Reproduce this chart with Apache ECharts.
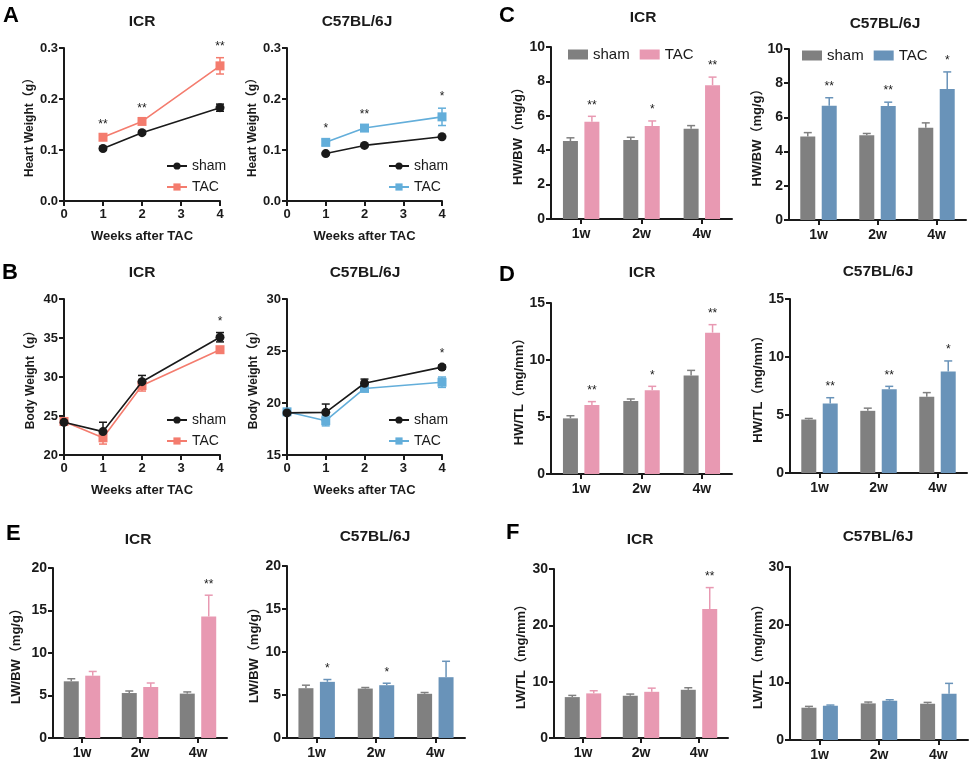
<!DOCTYPE html>
<html>
<head>
<meta charset="utf-8">
<script src="https://cdn.jsdelivr.net/npm/echarts@6/dist/echarts.min.js"></script>
<style>
html,body{margin:0;padding:0;background:#fff;}
#chart{width:969px;height:763px;}
</style>
</head>
<body>
<div id="chart"></div>
<script>
// ---------- DATA ----------
const weeksA = [1, 2, 4];
const hwIcrSham = [0.103, 0.134, 0.183];
const hwIcrShamErr = [0.003, 0.003, 0.007];
const hwIcrTac = [0.125, 0.156, 0.265];
const hwIcrTacErr = [0.004, 0.004, 0.016];
const hwIcrStars = ['**', '**', '**'];
const hwC57Sham = [0.093, 0.109, 0.126];
const hwC57ShamErr = [0.002, 0.002, 0.002];
const hwC57Tac = [0.115, 0.143, 0.165];
const hwC57TacErr = [0.006, 0.004, 0.017];
const hwC57Stars = ['*', '**', '*'];

const weeksB = [0, 1, 2, 4];
const bwIcrSham = [24.2, 23.0, 29.4, 35.1];
const bwIcrShamErr = [0.3, 1.2, 0.8, 0.6];
const bwIcrTac = [24.3, 22.2, 28.9, 33.5];
const bwIcrTacErr = [0.3, 0.8, 0.7, 0.3];
const bwIcrStars = ['', '', '', '*'];
const bwC57Sham = [19.05, 19.1, 21.9, 23.45];
const bwC57ShamErr = [0.2, 0.8, 0.4, 0.2];
const bwC57Tac = [19.15, 18.3, 21.4, 22.0];
const bwC57TacErr = [0.2, 0.5, 0.2, 0.5];
const bwC57Stars = ['', '', '', '*'];

const categories = ['1w', '2w', '4w'];
const hwbwIcrSham = [4.53, 4.60, 5.24];
const hwbwIcrShamErr = [0.19, 0.15, 0.19];
const hwbwIcrTac = [5.66, 5.41, 7.78];
const hwbwIcrTacErr = [0.31, 0.29, 0.47];
const hwbwIcrStars = ['**', '*', '**'];
const hwbwC57Sham = [4.88, 4.96, 5.39];
const hwbwC57ShamErr = [0.23, 0.10, 0.29];
const hwbwC57Tac = [6.68, 6.66, 7.66];
const hwbwC57TacErr = [0.47, 0.23, 1.0];
const hwbwC57Stars = ['**', '**', '*'];

const hwtlIcrSham = [4.88, 6.40, 8.65];
const hwtlIcrShamErr = [0.23, 0.18, 0.44];
const hwtlIcrTac = [6.05, 7.34, 12.4];
const hwtlIcrTacErr = [0.30, 0.35, 0.70];
const hwtlIcrStars = ['**', '*', '**'];
const hwtlC57Sham = [4.61, 5.36, 6.58];
const hwtlC57ShamErr = [0.09, 0.23, 0.35];
const hwtlC57Tac = [6.00, 7.21, 8.74];
const hwtlC57TacErr = [0.49, 0.26, 0.92];
const hwtlC57Stars = ['**', '**', '*'];

const lwbwIcrSham = [6.67, 5.29, 5.22];
const lwbwIcrShamErr = [0.30, 0.24, 0.20];
const lwbwIcrTac = [7.33, 6.00, 14.3];
const lwbwIcrTacErr = [0.50, 0.47, 2.5];
const lwbwIcrStars = ['', '', '**'];
const lwbwC57Sham = [5.79, 5.75, 5.14];
const lwbwC57ShamErr = [0.35, 0.12, 0.15];
const lwbwC57Tac = [6.53, 6.14, 7.07];
const lwbwC57TacErr = [0.27, 0.23, 1.85];
const lwbwC57Stars = ['*', '*', ''];

const lwtlIcrSham = [7.26, 7.50, 8.56];
const lwtlIcrShamErr = [0.30, 0.30, 0.36];
const lwtlIcrTac = [7.92, 8.20, 22.9];
const lwtlIcrTacErr = [0.47, 0.65, 3.8];
const lwtlIcrStars = ['', '', '**'];
const lwtlC57Sham = [5.60, 6.35, 6.29];
const lwtlC57ShamErr = [0.23, 0.23, 0.23];
const lwtlC57Tac = [5.94, 6.81, 8.02];
const lwtlC57TacErr = [0.12, 0.17, 1.8];
const lwtlC57Stars = ['', '', ''];

// ---------- STYLE ----------
const FONT = "'Liberation Sans', Arial, 'Noto Sans CJK SC', sans-serif";
const BLACK = '#1a1a1a';
const ICR_LINE = '#F47C6E';
const C57_LINE = '#63AEDA';
const GRAY_BAR = '#808080';
const PINK_BAR = '#E899B2';
const BLUE_BAR = '#6993B9';
const BAR_W = 15;
const BAR_GAP = 0.43;
const BAR_OFF = (BAR_W + BAR_W * BAR_GAP) / 2;

const linePanels = [
  { key: 'A1', grid: { left: 64, top: 48, width: 156, height: 153 }, x: weeksA,
    sham: hwIcrSham, shamErr: hwIcrShamErr, tac: hwIcrTac, tacErr: hwIcrTacErr, stars: hwIcrStars,
    color: ICR_LINE, min: 0, max: 0.3, interval: 0.1, dec: 1, yname: 'Heart Weight（g）', ygap: 28, legend: { left: 166, top: 159 } },
  { key: 'A2', grid: { left: 287, top: 48, width: 155, height: 153 }, x: weeksA,
    sham: hwC57Sham, shamErr: hwC57ShamErr, tac: hwC57Tac, tacErr: hwC57TacErr, stars: hwC57Stars,
    color: C57_LINE, min: 0, max: 0.3, interval: 0.1, dec: 1, yname: 'Heart Weight（g）', ygap: 28, legend: { left: 388, top: 159 } },
  { key: 'B1', grid: { left: 64, top: 299, width: 156, height: 156 }, x: weeksB,
    sham: bwIcrSham, shamErr: bwIcrShamErr, tac: bwIcrTac, tacErr: bwIcrTacErr, stars: bwIcrStars,
    color: ICR_LINE, min: 20, max: 40, interval: 5, dec: 0, yname: 'Body Weight（g）', ygap: 27, legend: { left: 166, top: 413 } },
  { key: 'B2', grid: { left: 287, top: 299, width: 155, height: 156 }, x: weeksB,
    sham: bwC57Sham, shamErr: bwC57ShamErr, tac: bwC57Tac, tacErr: bwC57TacErr, stars: bwC57Stars,
    color: C57_LINE, min: 15, max: 30, interval: 5, dec: 0, yname: 'Body Weight（g）', ygap: 27, legend: { left: 388, top: 413 } }
];

const barPanels = [
  { key: 'C1', grid: { left: 551, top: 47, width: 181, height: 172 },
    sham: hwbwIcrSham, shamErr: hwbwIcrShamErr, tac: hwbwIcrTac, tacErr: hwbwIcrTacErr, stars: hwbwIcrStars,
    color: PINK_BAR, max: 10, interval: 2, yname: 'HW/BW（mg/g）', ygap: 26, legend: { left: 568, top: 47 } },
  { key: 'C2', grid: { left: 789, top: 49, width: 177, height: 171 },
    sham: hwbwC57Sham, shamErr: hwbwC57ShamErr, tac: hwbwC57Tac, tacErr: hwbwC57TacErr, stars: hwbwC57Stars,
    color: BLUE_BAR, max: 10, interval: 2, yname: 'HW/BW（mg/g）', ygap: 22, legend: { left: 802, top: 48 } },
  { key: 'D1', grid: { left: 551, top: 303, width: 181, height: 171 },
    sham: hwtlIcrSham, shamErr: hwtlIcrShamErr, tac: hwtlIcrTac, tacErr: hwtlIcrTacErr, stars: hwtlIcrStars,
    color: PINK_BAR, max: 15, interval: 5, yname: 'HW/TL（mg/mm）', ygap: 24 },
  { key: 'D2', grid: { left: 790, top: 299, width: 177, height: 174 },
    sham: hwtlC57Sham, shamErr: hwtlC57ShamErr, tac: hwtlC57Tac, tacErr: hwtlC57TacErr, stars: hwtlC57Stars,
    color: BLUE_BAR, max: 15, interval: 5, yname: 'HW/TL（mg/mm）', ygap: 25 },
  { key: 'E1', grid: { left: 53, top: 568, width: 174, height: 170 },
    sham: lwbwIcrSham, shamErr: lwbwIcrShamErr, tac: lwbwIcrTac, tacErr: lwbwIcrTacErr, stars: lwbwIcrStars,
    color: PINK_BAR, max: 20, interval: 5, yname: 'LW/BW（mg/g）', ygap: 30 },
  { key: 'E2', grid: { left: 287, top: 566, width: 178, height: 172 },
    sham: lwbwC57Sham, shamErr: lwbwC57ShamErr, tac: lwbwC57Tac, tacErr: lwbwC57TacErr, stars: lwbwC57Stars,
    color: BLUE_BAR, max: 20, interval: 5, yname: 'LW/BW（mg/g）', ygap: 26 },
  { key: 'F1', grid: { left: 554, top: 569, width: 174, height: 169 },
    sham: lwtlIcrSham, shamErr: lwtlIcrShamErr, tac: lwtlIcrTac, tacErr: lwtlIcrTacErr, stars: lwtlIcrStars,
    color: PINK_BAR, max: 30, interval: 10, yname: 'LW/TL（mg/mm）', ygap: 26 },
  { key: 'F2', grid: { left: 790, top: 567, width: 178, height: 173 },
    sham: lwtlC57Sham, shamErr: lwtlC57ShamErr, tac: lwtlC57Tac, tacErr: lwtlC57TacErr, stars: lwtlC57Stars,
    color: BLUE_BAR, max: 30, interval: 10, yname: 'LW/TL（mg/mm）', ygap: 25 }
];

const titles = [
  ['ICR', 142, 22], ['C57BL/6J', 357, 22], ['ICR', 643, 18], ['C57BL/6J', 885, 24],
  ['ICR', 142, 273], ['C57BL/6J', 365, 273], ['ICR', 642, 273], ['C57BL/6J', 878, 272],
  ['ICR', 138, 540], ['C57BL/6J', 375, 537], ['ICR', 640, 540], ['C57BL/6J', 878, 537]
];
const letters = [['A', 3, 5], ['C', 499, 5], ['B', 2, 262], ['D', 499, 264], ['E', 6, 523], ['F', 506, 522]];

// ---------- BUILD ----------
const axisLine = { show: true, lineStyle: { color: BLACK, width: 2 } };
const axisTick = { show: true, length: 5, inside: false, lineStyle: { color: BLACK, width: 2 } };
const axisLabelBase = { color: BLACK, fontWeight: 'bold', fontSize: 13, fontFamily: FONT };
const nameStyle = { color: BLACK, fontWeight: 'bold', fontSize: 13, fontFamily: FONT };

const option = { animation: false, backgroundColor: '#fff', grid: [], xAxis: [], yAxis: [], series: [], legend: [], graphic: [] };

function errSeries(gi, data, color, offset, both, cap) {
  return {
    type: 'custom', xAxisIndex: gi, yAxisIndex: gi, z: 1, silent: true,
    data: data,
    renderItem: function (params, api) {
      const x = api.value(0), y = api.value(1), e = api.value(2);
      const pTop = api.coord([x, y + e]);
      const pBot = api.coord([x, both ? y - e : y]);
      const cx = pTop[0] + offset;
      const st = { stroke: color, lineWidth: 1.5 };
      const children = [
        { type: 'line', shape: { x1: cx, y1: pBot[1], x2: cx, y2: pTop[1] }, style: st },
        { type: 'line', shape: { x1: cx - cap / 2, y1: pTop[1], x2: cx + cap / 2, y2: pTop[1] }, style: st }
      ];
      if (both) children.push({ type: 'line', shape: { x1: cx - cap / 2, y1: pBot[1], x2: cx + cap / 2, y2: pBot[1] }, style: st });
      return { type: 'group', children: children };
    }
  };
}

function starSeries(gi, data, stars, offset, lift) {
  return {
    type: 'custom', xAxisIndex: gi, yAxisIndex: gi, z: 5, silent: true,
    data: data,
    renderItem: function (params, api) {
      const s = stars[params.dataIndex];
      if (!s) return null;
      const p = api.coord([api.value(0), api.value(1)]);
      return { type: 'text', style: { text: s, x: p[0] + offset, y: p[1] - lift, textAlign: 'center', textVerticalAlign: 'middle', fontSize: 12, fontFamily: FONT, fill: BLACK } };
    }
  };
}

let gi = 0;
linePanels.forEach(function (pn) {
  option.grid.push(Object.assign({ containLabel: false }, pn.grid));
  option.xAxis.push({
    type: 'value', gridIndex: gi, min: 0, max: 4, interval: 1,
    axisLine: axisLine, axisTick: axisTick, splitLine: { show: false },
    axisLabel: Object.assign({ margin: 7 }, axisLabelBase),
    name: 'Weeks after TAC', nameLocation: 'middle', nameGap: 29, nameTextStyle: nameStyle
  });
  const dec = pn.dec;
  option.yAxis.push({
    type: 'value', gridIndex: gi, min: pn.min, max: pn.max, interval: pn.interval,
    axisLine: axisLine, axisTick: axisTick, splitLine: { show: false },
    axisLabel: Object.assign({ margin: 6, formatter: function (v) { return v.toFixed(dec); } }, axisLabelBase),
    name: pn.yname, nameLocation: 'middle', nameGap: pn.ygap, nameTextStyle: Object.assign({}, nameStyle, { fontSize: 12 })
  });
  const shamName = 'sham|' + pn.key, tacName = 'TAC|' + pn.key;
  const shamErrData = pn.x.map(function (x, i) { return [x, pn.sham[i], pn.shamErr[i]]; });
  const tacErrData = pn.x.map(function (x, i) { return [x, pn.tac[i], pn.tacErr[i]]; });
  option.series.push(errSeries(gi, tacErrData, pn.color, 0, true, 8));
  option.series.push(errSeries(gi, shamErrData, BLACK, 0, true, 8));
  option.series.push({
    name: tacName, type: 'line', xAxisIndex: gi, yAxisIndex: gi, z: 3,
    data: pn.x.map(function (x, i) { return [x, pn.tac[i]]; }),
    symbol: 'rect', symbolSize: 9, lineStyle: { color: pn.color, width: 1.6 }, itemStyle: { color: pn.color }
  });
  option.series.push({
    name: shamName, type: 'line', xAxisIndex: gi, yAxisIndex: gi, z: 4,
    data: pn.x.map(function (x, i) { return [x, pn.sham[i]]; }),
    symbol: 'circle', symbolSize: 9, lineStyle: { color: BLACK, width: 1.6 }, itemStyle: { color: BLACK }
  });
  const starData = pn.x.map(function (x, i) { return [x, Math.max(pn.sham[i] + pn.shamErr[i], pn.tac[i] + pn.tacErr[i])]; });
  option.series.push(starSeries(gi, starData, pn.stars, 0, 11));
  option.legend.push({
    left: pn.legend.left, top: pn.legend.top, orient: 'vertical', padding: 0, itemGap: 7,
    itemWidth: 20, itemHeight: 9, selectedMode: false,
    data: [shamName, tacName],
    formatter: function (n) { return n.split('|')[0]; },
    textStyle: { fontSize: 14, color: BLACK, fontFamily: FONT }
  });
  gi++;
});

barPanels.forEach(function (pn) {
  option.grid.push(Object.assign({ containLabel: false }, pn.grid));
  option.xAxis.push({
    type: 'category', gridIndex: gi, data: categories,
    axisLine: axisLine, axisTick: Object.assign({ alignWithLabel: true }, axisTick),
    axisLabel: Object.assign({ margin: 8 }, axisLabelBase, { fontSize: 14 })
  });
  option.yAxis.push({
    type: 'value', gridIndex: gi, min: 0, max: pn.max, interval: pn.interval,
    axisLine: axisLine, axisTick: axisTick, splitLine: { show: false },
    axisLabel: Object.assign({ margin: 6 }, axisLabelBase, { fontSize: 14 }),
    name: pn.yname, nameLocation: 'middle', nameGap: pn.ygap, nameTextStyle: Object.assign({}, nameStyle, { fontSize: 13 })
  });
  const shamName = 'sham|' + pn.key, tacName = 'TAC|' + pn.key;
  option.series.push({
    name: shamName, type: 'bar', xAxisIndex: gi, yAxisIndex: gi, data: pn.sham,
    barWidth: BAR_W, barGap: (BAR_GAP * 100) + '%', itemStyle: { color: GRAY_BAR }, z: 2
  });
  option.series.push({
    name: tacName, type: 'bar', xAxisIndex: gi, yAxisIndex: gi, data: pn.tac,
    barWidth: BAR_W, barGap: (BAR_GAP * 100) + '%', itemStyle: { color: pn.color }, z: 2
  });
  option.series.push(errSeries(gi, pn.sham.map(function (v, i) { return [i, v, pn.shamErr[i]]; }), GRAY_BAR, -BAR_OFF, false, 8));
  option.series.push(errSeries(gi, pn.tac.map(function (v, i) { return [i, v, pn.tacErr[i]]; }), pn.color, BAR_OFF, false, 8));
  option.series.push(starSeries(gi, pn.tac.map(function (v, i) { return [i, v + pn.tacErr[i]]; }), pn.stars, BAR_OFF, 11));
  if (pn.legend) {
    option.legend.push({
      left: pn.legend.left, top: pn.legend.top, orient: 'horizontal', padding: 0, itemGap: 10,
      itemWidth: 20, itemHeight: 10, icon: 'rect', selectedMode: false,
      data: [shamName, tacName],
      formatter: function (n) { return n.split('|')[0]; },
      textStyle: { fontSize: 15, color: BLACK, fontFamily: FONT }
    });
  }
  gi++;
});

titles.forEach(function (t) {
  option.graphic.push({ type: 'text', x: t[1], y: t[2], silent: true,
    style: { text: t[0], textAlign: 'center', textVerticalAlign: 'middle', font: 'bold 15.5px ' + FONT, fill: BLACK } });
});
letters.forEach(function (l) {
  option.graphic.push({ type: 'text', left: l[1], top: l[2], silent: true,
    style: { text: l[0], font: 'bold 22px ' + FONT, fill: '#000' } });
});

const chart = echarts.init(document.getElementById('chart'), null, { renderer: 'canvas' });
chart.setOption(option);
</script>
</body>
</html>
